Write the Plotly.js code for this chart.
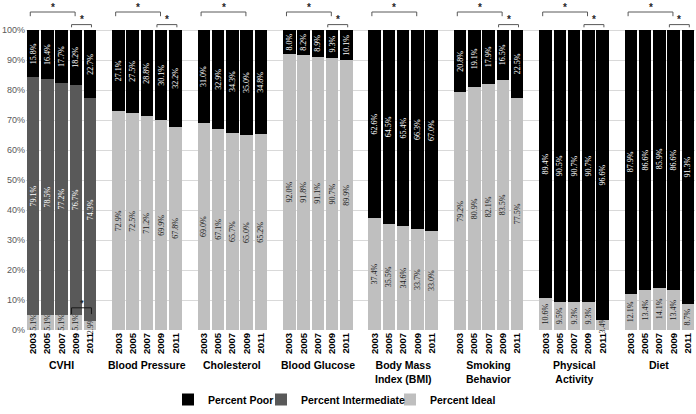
<!DOCTYPE html>
<html>
<head>
<meta charset="utf-8">
<script src="https://cdn.plot.ly/plotly-3.0.1.min.js"></script>
<style>html,body{margin:0;padding:0;background:#fff;}#chart{width:696px;height:414px;}</style>
</head>
<body>
<div id="chart"></div>
<script>
// ---- data ----
const groups = ['CVHI', 'Blood Pressure', 'Cholesterol', 'Blood Glucose',
  'Body Mass<br>Index (BMI)', 'Smoking<br>Behavior', 'Physical<br>Activity', 'Diet'];
const years = ['2003', '2005', '2007', '2009', '2011'];

// Percent Ideal, one row per group (years 2003..2011)
const pctIdeal = [
  [5.1, 5.1, 5.1, 5.1, 2.9],
  [72.9, 72.5, 71.2, 69.9, 67.8],
  [69.0, 67.1, 65.7, 65.0, 65.2],
  [92.0, 91.8, 91.1, 90.7, 89.9],
  [37.4, 35.5, 34.6, 33.7, 33.0],
  [79.2, 80.9, 82.1, 83.5, 77.5],
  [10.6, 9.5, 9.3, 9.3, 3.4],
  [12.1, 13.4, 14.1, 13.4, 8.7]
];
// Percent Intermediate (CVHI only)
const pctIntermediateCVHI = [79.1, 78.5, 77.2, 76.7, 74.3];
// Percent Poor, one row per group
const pctPoor = [
  [15.8, 16.4, 17.7, 18.2, 22.7],
  [27.1, 27.5, 28.8, 30.1, 32.2],
  [31.0, 32.9, 34.3, 35.0, 34.8],
  [8.0, 8.2, 8.9, 9.3, 10.1],
  [62.6, 64.5, 65.4, 66.3, 67.0],
  [20.8, 19.1, 17.9, 16.5, 22.5],
  [89.4, 90.5, 90.7, 90.7, 96.6],
  [87.9, 86.6, 85.9, 86.6, 91.3]
];
// groups with a significant 2009 vs 2011 difference (small bracket)
const sig0911Groups = [0, 1, 3, 5, 6, 7];

// ---- build ----
const SLOT = 6;
const pos = (g, i) => g * SLOT + i;
const fmt = v => v.toFixed(1) + '%';

const xAll = [], yIdeal = [], yPoor = [];
groups.forEach((g, gi) => years.forEach((y, yi) => {
  xAll.push(pos(gi, yi));
  yIdeal.push(pctIdeal[gi][yi]);
  yPoor.push(pctPoor[gi][yi]);
}));
const xCVHI = years.map((y, yi) => pos(0, yi));

const textFont = {family: 'Liberation Serif, Times New Roman, serif', size: 8};
const common = {type: 'bar', width: 0.88, textposition: 'inside', textangle: -90,
  insidetextanchor: 'middle', cliponaxis: false, hoverinfo: 'skip'};

const traces = [
  Object.assign({}, common, {name: '<b>Percent Ideal</b>', legend: 'legend3', x: xAll, y: yIdeal,
    text: yIdeal.map(fmt), marker: {color: '#bfbfbf', line: {width: 0}},
    textfont: Object.assign({color: '#1a1a1a'}, textFont)}),
  Object.assign({}, common, {name: '<b>Percent Intermediate</b>', legend: 'legend2', x: xCVHI, y: pctIntermediateCVHI,
    text: pctIntermediateCVHI.map(fmt), marker: {color: '#595959', line: {width: 0}},
    textfont: Object.assign({color: '#ffffff'}, textFont)}),
  Object.assign({}, common, {name: '<b>Percent Poor</b>', legend: 'legend', x: xAll, y: yPoor,
    text: yPoor.map(fmt), marker: {color: '#000000', line: {width: 0}},
    textfont: Object.assign({color: '#ffffff'}, textFont)})
];

const shapes = [], annotations = [];
function bracket(x0, x1, yLine, yEnd, color, starSize, starY) {
  shapes.push({type: 'path', xref: 'x', yref: 'y',
    path: `M ${x0},${yEnd} L ${x0},${yLine} L ${x1},${yLine} L ${x1},${yEnd}`,
    line: {color: color, width: 1}});
  annotations.push({x: (x0 + x1) / 2, y: starY, xref: 'x', yref: 'y', text: '<b>*</b>',
    showarrow: false, yanchor: 'middle', borderpad: 0,
    font: {family: 'Liberation Sans, Arial, sans-serif', size: starSize, color: '#262626'}});
}
groups.forEach((g, gi) => {
  bracket(pos(gi, 0) - 0.2, pos(gi, 3) - 0.05, 106, 104.6, '#595959', 10, 107.4);
  if (sig0911Groups.includes(gi)) bracket(pos(gi, 3) - 0.3, pos(gi, 4) + 0.1, 101.8, 100.9, '#595959', 10, 103.5);
  annotations.push({x: pos(gi, 2), y: -0.082, xref: 'x', yref: 'paper', yanchor: 'top',
    text: '<b>' + g + '</b>', showarrow: false,
    font: {family: 'Liberation Sans, Arial, sans-serif', size: 10.5, color: '#000'}});
});
// CVHI ideal 2009 vs 2011
bracket(pos(0, 3) - 0.3, pos(0, 4) + 0.1, 7.4, 5.3, '#1a1a1a', 9, 9.0);

const tickYs = [0, 10, 20, 30, 40, 50, 60, 70, 80, 90, 100];
const px2paper = p => (p - 26) / 669;
const legFont = {size: 10.5, color: '#000'};
const legY = -0.212;
const legBg = 'rgba(0,0,0,0)';

const layout = {
  width: 696, height: 414,
  margin: {l: 26, r: 1, t: 0, b: 73},
  paper_bgcolor: '#fff', plot_bgcolor: '#fff',
  barmode: 'stack',
  showlegend: true,
  uniformtext: {mode: 'show', minsize: 8},
  font: {family: 'Liberation Sans, Arial, sans-serif'},
  xaxis: {range: [-0.5, 46.5], tickmode: 'array', tickvals: xAll,
    ticktext: xAll.map((x, i) => '<b>' + years[i % 5] + '</b>'),
    tickangle: -90, tickfont: {size: 9.5, color: '#000'},
    showgrid: false, zeroline: false, showline: false, ticks: '', fixedrange: true},
  yaxis: {range: [0, 110], tickmode: 'array', tickvals: tickYs,
    ticktext: tickYs.map(v => v + '%'), tickfont: {size: 9, color: '#595959'},
    gridcolor: '#d9d9d9', gridwidth: 1, zeroline: false, showline: false, ticks: '',
    fixedrange: true},
  legend: {orientation: 'h', x: px2paper(168), xanchor: 'left', y: legY, yanchor: 'middle', font: legFont, bgcolor: legBg},
  legend2: {orientation: 'h', x: px2paper(261), xanchor: 'left', y: legY, yanchor: 'middle', font: legFont, bgcolor: legBg},
  legend3: {orientation: 'h', x: px2paper(390), xanchor: 'left', y: legY, yanchor: 'middle', font: legFont, bgcolor: legBg},
  shapes: shapes,
  annotations: annotations
};

Plotly.newPlot('chart', traces, layout, {displayModeBar: false, staticPlot: true});
</script>
</body>
</html>
